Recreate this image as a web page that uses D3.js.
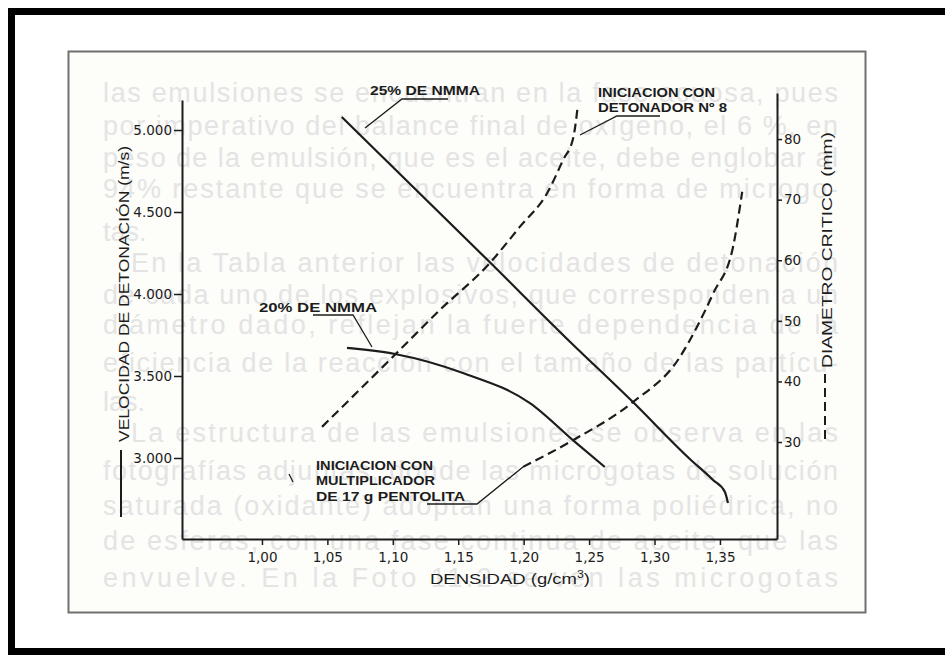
<!DOCTYPE html>
<html>
<head>
<meta charset="utf-8">
<script src="https://cdn.jsdelivr.net/npm/d3@7"></script>
<style>
  html, body { margin: 0; padding: 0; background: #ffffff; }
  svg { display: block; }
  text { font-family: "Liberation Sans", Arial, sans-serif; }
</style>
</head>
<body>
<svg id="chart" width="945" height="656"></svg>
<script>
// ---------------- DATA ----------------
const densityTicks = [1.00, 1.05, 1.10, 1.15, 1.20, 1.25, 1.30, 1.35];
const velocityTicks = [3000, 3500, 4000, 4500, 5000];
const diameterTicks = [30, 40, 50, 60, 70, 80];

// Velocidad de detonación (m/s), 25% de NMMA
const density25 = [1.061, 1.174, 1.234, 1.2835, 1.327, 1.3447, 1.3538, 1.3561];
const velocity25 = [5079, 4195, 3720, 3341, 2994, 2866, 2793, 2726];

// Velocidad de detonación (m/s), 20% de NMMA
const density20 = [1.065, 1.1016, 1.1536, 1.2048, 1.2392, 1.262];
const velocity20 = [3671, 3634, 3518, 3335, 3098, 2945];

// Diámetro crítico (mm), iniciación con detonador Nº 8
const densityDet = [1.0459, 1.1016, 1.136, 1.174, 1.197, 1.218, 1.230, 1.238, 1.241];
const diameterDet = [32.5, 44.4, 51.8, 59.5, 65.5, 71.1, 76.5, 80.3, 84.8];

// Diámetro crítico (mm), iniciación con multiplicador de 17 g pentolita
const densityMul = [1.1995, 1.2377, 1.2835, 1.319, 1.3324, 1.345, 1.360, 1.367];
const diameterMul = [25.9, 30.3, 36.6, 43.9, 49.0, 54.6, 62.2, 71.3];

// Texto del fondo (página impresa detrás del gráfico)
const backgroundLines = [
  "las emulsiones se encuentran en la fase acuosa, pues",
  "por imperativo del balance final de oxígeno, el 6 %, en",
  "peso de la emulsión, que es el aceite, debe englobar al",
  "94% restante que se encuentra en forma de microgo-",
  "tas.",
  "En la Tabla anterior las velocidades de detonación",
  "de cada uno de los explosivos, que corresponden a un",
  "diámetro dado, reflejan la fuerte dependencia de la",
  "eficiencia de la reacción con el tamaño de las partícu-",
  "las.",
  "La estructura de las emulsiones se observa en las",
  "fotografías adjuntas, donde las microgotas de solución",
  "saturada (oxidante) adoptan una forma poliédrica, no",
  "de esferas, con una fase continua de aceite, que las",
  "envuelve. En la Foto 11.2 se ven las microgotas"
];
const backgroundBaselines = [102, 135, 167, 198, 241, 272, 304, 334, 372, 411, 442, 480, 515, 550, 587];
const backgroundIndent = [0, 0, 0, 0, 0, 1, 0, 0, 0, 0, 1, 0, 0, 0, 0];
const backgroundShort = [0, 0, 0, 0, 1, 0, 0, 0, 0, 1, 0, 0, 0, 0, 0];

// ---------------- DRAW ----------------
const svg = d3.select("#chart");
const ink = "#1c1c1c";

// outer black frame
svg.append("rect").attr("x", 11.5).attr("y", 11.5).attr("width", 960).attr("height", 640)
  .attr("fill", "#ffffff").attr("stroke", "#000").attr("stroke-width", 7);

// inner page frame
svg.append("rect").attr("x", 68.5).attr("y", 51.5).attr("width", 797).attr("height", 561)
  .attr("fill", "#fdfdfa").attr("stroke", "#707070").attr("stroke-width", 2);

// faded background text
const bg = svg.append("g").attr("fill", "#e4e4e4").attr("font-size", 27);
backgroundLines.forEach((t, i) => {
  const x0 = backgroundIndent[i] ? 131 : 103;
  const tx = bg.append("text").attr("x", x0).attr("y", backgroundBaselines[i]).text(t);
  if (!backgroundShort[i]) {
    tx.attr("textLength", 838 - x0).attr("lengthAdjust", "spacing");
  }
});

// scales
const x = d3.scaleLinear().domain([0.9389, 1.3936]).range([182, 777]);
const yV = d3.scaleLinear().domain([2506, 5183]).range([539, 100]);
const yD = d3.scaleLinear().domain([14.0, 87.6]).range([539, 93]);

// axes
function styleAxis(g) {
  g.select(".domain").attr("stroke", ink).attr("stroke-width", 2);
  g.selectAll(".tick line").attr("stroke", ink).attr("stroke-width", 1.5);
  g.selectAll(".tick text").attr("fill", ink)
    .style("font-family", "'DejaVu Sans', sans-serif").style("font-size", "13.5px");
}

svg.append("g").attr("transform", "translate(182,0)")
  .call(d3.axisLeft(yV).tickValues(velocityTicks).tickSize(8).tickSizeOuter(0).tickPadding(2)
    .tickFormat(d => d3.format(",")(d).replace(",", ".")))
  .call(styleAxis);

svg.append("g").attr("transform", "translate(0,539)")
  .call(d3.axisBottom(x).tickValues(densityTicks).tickSize(6).tickSizeOuter(0).tickPadding(7)
    .tickFormat(d => d3.format(".2f")(d).replace(".", ",")))
  .call(styleAxis);

svg.append("g").attr("transform", "translate(777,0)")
  .call(d3.axisRight(yD).tickValues(diameterTicks).tickSize(5).tickSizeOuter(0).tickPadding(2))
  .call(styleAxis);

// curves
const lineV = d3.line().x(d => x(d[0])).y(d => yV(d[1])).curve(d3.curveMonotoneX);
const lineD = d3.line().x(d => x(d[0])).y(d => yD(d[1])).curve(d3.curveMonotoneX);

svg.append("path").attr("d", lineV(d3.zip(density25, velocity25)))
  .attr("fill", "none").attr("stroke", ink).attr("stroke-width", 2.2);
svg.append("path").attr("d", lineV(d3.zip(density20, velocity20)))
  .attr("fill", "none").attr("stroke", ink).attr("stroke-width", 2.2);
svg.append("path").attr("d", lineD(d3.zip(densityDet, diameterDet)))
  .attr("fill", "none").attr("stroke", ink).attr("stroke-width", 2.2).attr("stroke-dasharray", "9,5");
svg.append("path").attr("d", lineD(d3.zip(densityMul, diameterMul)))
  .attr("fill", "none").attr("stroke", ink).attr("stroke-width", 2.2).attr("stroke-dasharray", "9,5");

// annotations
const ann = svg.append("g").attr("fill", ink).attr("font-weight", "bold").attr("font-size", 12.5);
function label(tx, xx, yy, w) {
  ann.append("text").attr("x", xx).attr("y", yy).attr("textLength", w)
    .attr("lengthAdjust", "spacingAndGlyphs").text(tx);
}
label("25% DE NMMA", 370, 95, 110);
label("20% DE NMMA", 259, 312, 118);
label("INICIACION CON", 598, 97, 117);
label("DETONADOR Nº 8", 598, 112, 129);
label("INICIACION CON", 316, 470, 117);
label("MULTIPLICADOR", 316, 485, 119);
label("DE 17 g PENTOLITA", 316, 501, 149);

// leader lines
const leaders = svg.append("g").attr("fill", "none").attr("stroke", ink).attr("stroke-width", 1.3);
leaders.append("polyline").attr("points", "448,99 402,99 365,128");
leaders.append("polyline").attr("points", "313,315 353,315 372,347");
leaders.append("polyline").attr("points", "660,116 617,116 580,135");
leaders.append("polyline").attr("points", "427,504 477,504 523,467");
leaders.append("line").attr("x1", 289).attr("y1", 474).attr("x2", 293).attr("y2", 482);

// axis titles with line-style keys
const titles = svg.append("g").attr("fill", ink).attr("font-size", 15);
titles.append("text").attr("transform", "translate(129,442) rotate(-90)")
  .attr("textLength", 296).attr("lengthAdjust", "spacingAndGlyphs")
  .text("VELOCIDAD DE DETONACIÓN (m/s)");
svg.append("line").attr("x1", 121).attr("x2", 121).attr("y1", 450).attr("y2", 517)
  .attr("stroke", ink).attr("stroke-width", 2);

titles.append("text").attr("transform", "translate(832,368) rotate(-90)")
  .attr("textLength", 236).attr("lengthAdjust", "spacingAndGlyphs")
  .text("DIAMETRO CRITICO (mm)");
svg.append("line").attr("x1", 825).attr("x2", 825).attr("y1", 374).attr("y2", 441)
  .attr("stroke", ink).attr("stroke-width", 2).attr("stroke-dasharray", "9,5");

const dens = titles.append("text").attr("x", 430).attr("y", 584)
  .attr("textLength", 160).attr("lengthAdjust", "spacingAndGlyphs");
dens.append("tspan").text("DENSIDAD (g/cm");
dens.append("tspan").attr("font-size", 10).attr("dy", -6).text("3");
dens.append("tspan").attr("dy", 6).text(")");
</script>
</body>
</html>
